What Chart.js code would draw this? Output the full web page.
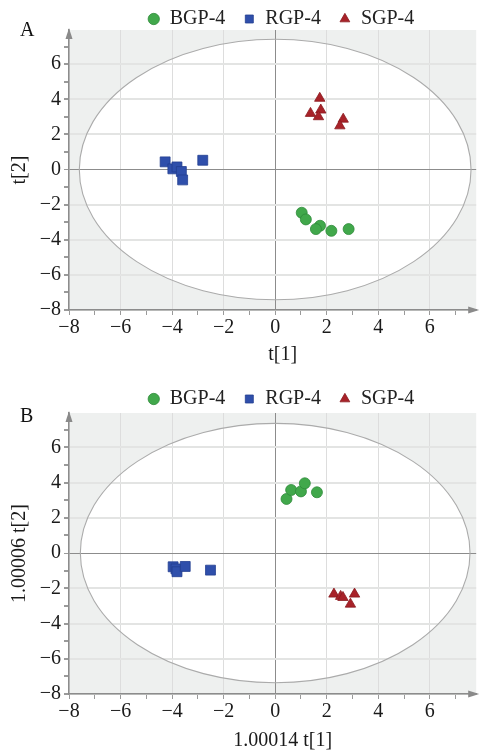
<!DOCTYPE html>
<html>
<head>
<meta charset="utf-8">
<script src="https://cdn.jsdelivr.net/npm/chart.js@4.4.1/dist/chart.umd.min.js"></script>
<style>
  html, body { margin: 0; padding: 0; background: #fff; }
  canvas { display: block; }
</style>
</head>
<body>
<canvas id="chartA" width="484" height="375"></canvas>
<canvas id="chartB" width="484" height="376"></canvas>
<script>
// --- data ---
const groups = ['BGP-4', 'RGP-4', 'SGP-4'];

// panel A: t[1] / t[2]
const aBgpX = [1.03, 1.19, 1.74, 1.58, 2.18, 2.85];
const aBgpY = [-2.46, -2.84, -3.20, -3.39, -3.49, -3.39];
const aRgpX = [-4.27, -3.97, -3.81, -3.64, -3.59, -2.81];
const aRgpY = [0.44, 0.04, 0.15, -0.11, -0.59, 0.53];
const aSgpX = [1.73, 1.37, 1.77, 1.68, 2.64, 2.51];
const aSgpY = [4.06, 3.20, 3.39, 3.01, 2.87, 2.49];
const aEllipse = [7.6, 7.42];

// panel B: 1.00014 t[1] / 1.00006 t[2]
const bBgpX = [0.44, 0.62, 1.00, 1.15, 1.62];
const bBgpY = [3.07, 3.58, 3.50, 3.96, 3.45];
const bRgpX = [-3.96, -3.85, -3.81, -3.49, -2.51];
const bRgpY = [-0.78, -0.90, -1.06, -0.76, -0.97];
const bSgpX = [2.28, 2.54, 2.63, 3.08, 2.92];
const bSgpY = [-2.33, -2.46, -2.52, -2.33, -2.90];
const bEllipse = [7.56, 7.36];

// tick labels
const xTickLabels = [-8, -6, -4, -2, 0, 2, 4, 6];
const yTickLabels = [-8, -6, -4, -2, 0, 2, 4, 6];

const FONT = 'Liberation Serif, Times New Roman, serif';
const colors = ['#41a84b', '#2f4fab', '#a82229'];
const borders = ['#2f8a3a', '#233f90', '#8a1a20'];
const styles = ['circle', 'rect', 'triangle'];
const radii = [5.5, 7, 6];

function fmt(v) {
    return v < 0 ? '\u2212' + Math.abs(v) : String(v);
}

function toPoints(xs, ys) {
    return xs.map((x, i) => ({ x: x, y: ys[i] }));
}

// grey plot area with the white Hotelling ellipse, arrows and panel letter
const pcaFrame = {
    id: 'pcaFrame',
    afterLayout(chart, args, o) {
        // legend sits a bit higher and right of where Chart.js centres it
        const lg = chart.legend;
        lg.top += o.legendDy;
        lg.left += o.legendDx;
        lg.right += o.legendDx;
        const xs = chart.scales.x;
        if (!xs._shifted) {
            const orig = xs.drawTitle;
            xs.drawTitle = function () {
                this.ctx.save();
                this.ctx.translate(o.titleDx, 0);
                orig.call(this);
                this.ctx.restore();
            };
            xs._shifted = true;
        }
    },
    beforeDraw(chart, args, o) {
        const { ctx, chartArea: a, scales: { x, y } } = chart;
        ctx.save();
        ctx.fillStyle = '#eef0ef';
        ctx.fillRect(a.left, a.top, a.right - a.left, a.bottom - a.top);
        const cx = x.getPixelForValue(0), cy = y.getPixelForValue(0);
        const rx = x.getPixelForValue(o.ellipse[0]) - cx;
        const ry = cy - y.getPixelForValue(o.ellipse[1]);
        ctx.beginPath();
        ctx.ellipse(cx, cy, rx, ry, 0, 0, Math.PI * 2);
        ctx.fillStyle = '#ffffff';
        ctx.fill();
        ctx.restore();
    },
    beforeDatasetsDraw(chart, args, o) {
        const { ctx, chartArea: a, scales: { x, y } } = chart;
        const cx = x.getPixelForValue(0), cy = y.getPixelForValue(0);
        const rx = x.getPixelForValue(o.ellipse[0]) - cx;
        const ry = cy - y.getPixelForValue(o.ellipse[1]);
        ctx.save();
        ctx.beginPath();
        ctx.ellipse(cx, cy, rx, ry, 0, 0, Math.PI * 2);
        ctx.strokeStyle = '#ababab';
        ctx.lineWidth = 1.1;
        ctx.stroke();
        // axis arrows
        ctx.fillStyle = '#8a8a8a';
        ctx.beginPath();
        ctx.moveTo(a.left, a.top - 2);
        ctx.lineTo(a.left - 3.5, a.top + 9);
        ctx.lineTo(a.left + 3.5, a.top + 9);
        ctx.closePath();
        ctx.fill();
        ctx.beginPath();
        ctx.moveTo(a.right + 3, a.bottom);
        ctx.lineTo(a.right - 8, a.bottom - 3.5);
        ctx.lineTo(a.right - 8, a.bottom + 3.5);
        ctx.closePath();
        ctx.fill();
        // panel letter
        ctx.fillStyle = '#111';
        ctx.font = '20px ' + FONT;
        ctx.textBaseline = 'middle';
        ctx.textAlign = 'left';
        ctx.fillText(o.letter, 20, o.letterY);
        ctx.restore();
    }
};

function createPlot(canvasId, series, cfg) {
    const ctx = document.getElementById(canvasId).getContext('2d');
    const datasets = series.map((s, i) => ({
        label: groups[i],
        data: toPoints(s[0], s[1]),
        pointStyle: styles[i],
        pointRadius: radii[i],
        pointHoverRadius: radii[i],
        backgroundColor: colors[i],
        borderColor: borders[i],
        borderWidth: 0.8
    }));
    return new Chart(ctx, {
        type: 'scatter',
        data: { datasets: datasets },
        options: {
            responsive: false,
            animation: false,
            layout: { padding: { left: 0, right: 4, top: 0, bottom: 0 } },
            plugins: {
                legend: {
                    position: 'top',
                    maxHeight: cfg.legendHeight,
                    labels: {
                        usePointStyle: true,
                        boxWidth: 12,
                        boxHeight: 8,
                        padding: 18,
                        color: '#222',
                        font: { family: FONT, size: 20 }
                    }
                },
                tooltip: { enabled: false },
                pcaFrame: {
                    ellipse: cfg.ellipse,
                    letter: cfg.letter,
                    letterY: cfg.letterY,
                    legendDx: 41,
                    legendDy: cfg.legendDy,
                    titleDx: 10
                }
            },
            scales: {
                x: {
                    type: 'linear',
                    min: -8,
                    max: 7.8,
                    afterFit: s => { s.height = cfg.xAxisHeight; },
                    border: { display: true, color: '#8c8c8c', width: 1.5 },
                    grid: {
                        color: c => !xTickLabels.includes(c.tick.value) ? 'rgba(0,0,0,0)'
                            : (c.tick.value === 0 ? '#8c8c8c' : '#dddddd'),
                        lineWidth: 1,
                        tickColor: '#9a9a9a',
                        tickLength: 5
                    },
                    ticks: {
                        stepSize: 1,
                        includeBounds: false,
                        autoSkip: false,
                        maxRotation: 0,
                        padding: 3,
                        color: '#1a1a1a',
                        font: { family: FONT, size: 20, lineHeight: 1 },
                        callback: v => xTickLabels.includes(v) ? fmt(v) : ''
                    },
                    title: {
                        display: true,
                        text: cfg.xTitle,
                        color: '#1a1a1a',
                        font: { family: FONT, size: 20, lineHeight: 1 },
                        padding: { top: 0, bottom: cfg.xTitlePad }
                    }
                },
                y: {
                    type: 'linear',
                    min: -8,
                    max: 7.95,
                    afterFit: s => { s.width = 69; },
                    border: { display: true, color: '#8c8c8c', width: 1.5 },
                    grid: {
                        color: c => !yTickLabels.includes(c.tick.value) ? 'rgba(0,0,0,0)'
                            : (c.tick.value === 0 ? '#8c8c8c' : '#e3e4e3'),
                        lineWidth: c => c.tick.value === 0 ? 1 : 2,
                        tickColor: '#9a9a9a',
                        tickLength: 5
                    },
                    ticks: {
                        stepSize: 1,
                        includeBounds: false,
                        autoSkip: false,
                        padding: 3,
                        color: '#1a1a1a',
                        font: { family: FONT, size: 20, lineHeight: 1 },
                        callback: v => yTickLabels.includes(v) ? fmt(v) : ''
                    },
                    title: {
                        display: true,
                        text: cfg.yTitle,
                        color: '#1a1a1a',
                        font: { family: FONT, size: 20, lineHeight: 1 },
                        padding: { top: 10, bottom: 0 }
                    }
                }
            }
        },
        plugins: [pcaFrame]
    });
}

createPlot('chartA',
    [[aBgpX, aBgpY], [aRgpX, aRgpY], [aSgpX, aSgpY]],
    { ellipse: aEllipse, letter: 'A', letterY: 31, legendHeight: 30, legendDy: -9,
      xAxisHeight: 65, xTitle: 't[1]', xTitlePad: 10, yTitle: 't[2]' });

createPlot('chartB',
    [[bBgpX, bBgpY], [bRgpX, bRgpY], [bSgpX, bSgpY]],
    { ellipse: bEllipse, letter: 'B', letterY: 42, legendHeight: 38, legendDy: -4,
      xAxisHeight: 57, xTitle: '1.00014 t[1]', xTitlePad: 0, yTitle: '1.00006 t[2]' });
</script>
</body>
</html>
